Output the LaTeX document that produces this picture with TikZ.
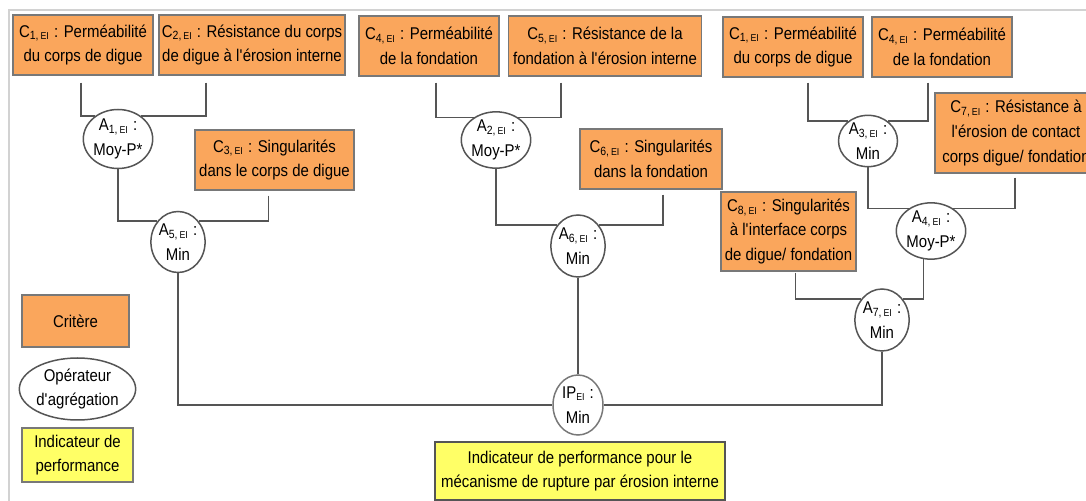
\documentclass[tikz,border=0pt]{standalone}
\usepackage{fontspec}
\setmainfont{Liberation Sans}[FakeStretch=0.88]
\usepackage{xcolor}
\usepackage{tikz}
\usetikzlibrary{positioning,shapes.geometric,calc}

\definecolor{orangecrit}{RGB}{250,166,92}
\definecolor{jaunind}{RGB}{255,255,102}
\definecolor{bordgris}{RGB}{120,120,120}
\definecolor{traitgris}{RGB}{85,85,85}
\definecolor{cadregris}{RGB}{210,210,210}

% indice des critères et opérateurs
\newcommand{\indEI}[1]{\textsubscript{#1,\,{\fontsize{5}{5}\selectfont EI}}}
\newcommand{\apos}{\textquotesingle}

\begin{document}
\begin{tikzpicture}[x=0.5pt, y=-0.5pt, font=\fontsize{8.5}{12.3}\selectfont,
  critere/.style={draw=bordgris, fill=orangecrit, line width=0.75pt, inner sep=0pt,
    align=center, minimum height=30pt},
  operateur/.style={ellipse, draw=traitgris, fill=white, line width=0.75pt, inner sep=0pt,
    align=center},
  indicateur/.style={draw=bordgris, fill=jaunind, line width=0.75pt, inner sep=0pt,
    align=center},
  lien/.style={draw=traitgris, line width=0.9pt}]

  \useasboundingbox (0,0) rectangle (1086,501);

  % === Cadre ===
  \draw[cadregris, line width=1pt] (9,501) -- (9,10) -- (1086,10);

  % === Critères ===
  \node[critere, minimum width=70pt]   (c1)  at (83,45)   {C\indEI{1} : Perméabilité\\du corps de digue};
  \node[critere, minimum width=93pt]   (c2)  at (252,45)  {C\indEI{2} : Résistance du corps\\de digue à l\apos érosion interne};
  \node[critere, minimum width=70pt]   (c4)  at (429,46)  {C\indEI{4} : Perméabilité\\de la fondation};
  \node[critere, minimum width=96.5pt] (c5)  at (605,46)  {C\indEI{5} : Résistance de la\\fondation à l\apos érosion interne};
  \node[critere, minimum width=70pt]   (c1b) at (793,47)  {C\indEI{1} : Perméabilité\\du corps de digue};
  \node[critere, minimum width=70pt]   (c4b) at (942,47)  {C\indEI{4} : Perméabilité\\de la fondation};
  \node[critere, minimum width=79.5pt] (c3)  at (274.5,160) {C\indEI{3} : Singularités\\dans le corps de digue};
  \node[critere, minimum width=71pt]   (c6)  at (651,159) {C\indEI{6} : Singularités\\dans la fondation};
  \node[critere, minimum width=81pt, minimum height=40pt] (c7) at (1016,133)
    {C\indEI{7} : Résistance à\\l\apos érosion de contact\\corps digue/ fondation};
  \node[critere, minimum width=67.5pt, minimum height=39.5pt] (c8) at (788.5,231.5)
    {C\indEI{8} : Singularités\\à l\apos interface corps\\de digue/ fondation};

  % === Opérateurs d'agrégation ===
  \node[operateur, minimum width=31pt,   minimum height=29.5pt] (a1) at (118,139) {A\indEI{1} :\\Moy-P*};
  \node[operateur, minimum width=32.5pt, minimum height=27.5pt] (a2) at (496,140) {A\indEI{2} :\\Moy-P*};
  \node[operateur, minimum width=29.5pt, minimum height=25pt]   (a3) at (868,141) {A\indEI{3} :\\Min};
  \node[operateur, minimum width=31.5pt, minimum height=26pt]   (a4) at (931,231) {A\indEI{4} :\\Moy-P*};
  \node[operateur, minimum width=26pt,   minimum height=30.5pt] (a5) at (178,242) {A\indEI{5} :\\Min};
  \node[operateur, minimum width=26.5pt, minimum height=31pt]   (a6) at (578,246) {A\indEI{6} :\\Min};
  \node[operateur, minimum width=26pt,   minimum height=31pt]   (a7) at (882,320) {A\indEI{7} :\\Min};
  \node[operateur, draw=bordgris, minimum width=25pt, minimum height=30pt] (ip) at (578,405)
    {IP\textsubscript{\fontsize{5}{5}\selectfont EI} :\\Min};

  % === Indicateur final ===
  \node[indicateur, draw=traitgris, line width=1pt, minimum width=145pt, minimum height=29pt] (ipf) at (580,471)
    {Indicateur de performance pour le\\mécanisme de rupture par érosion interne};

  % === Légende ===
  \node[critere, minimum width=53.5pt, minimum height=26pt] (lcrit) at (75.5,321) {Critère};
  \node[operateur, minimum width=50.5pt, minimum height=31pt] (lop) at (77.5,389) {Opérateur\\d\apos agrégation};
  \node[indicateur, minimum width=55.5pt, minimum height=27pt] (lind) at (77.5,455) {Indicateur de\\performance};

  % === Liens ===
  \draw[lien] ($(c1.south)+(-2,7)$)   |- (a1.135);
  \draw[lien] ($(c2.south)+(-46,7)$)  |- (a1.45);
  \draw[lien] ($(c3.south)+(-6,5)$)   |- (a5.45);
  \draw[lien] (a1.south)              |- (a5.135);
  \draw[lien] ($(c4.south)+(7,6)$)    |- (a2.135);
  \draw[lien] ($(c5.south)+(-44,6)$)  |- (a2.45);
  \draw[lien] ($(c6.south)+(12,5)$)   |- (a6.45);
  \draw[lien] (a2.south)              |- (a6.135);
  \draw[lien] ($(c1b.south)+(15,5)$)  |- (a3.135);
  \draw[lien] ($(c4b.south)+(-14,5)$) |- (a3.45);
  \draw[lien] ($(c7.south)+(-1,4)$)   |- (a4.45);
  \draw[lien] (a3.south)              |- (a4.135);
  \draw[lien] ($(c8.south)+(7,1)$)    |- (a7.135);
  \draw[lien] (a4.255)                |- (a7.45);
  \draw[lien] (a5.south)              |- (ip.west);
  \draw[lien] (a6.south)              -- (ip.north);
  \draw[lien] (a7.south)              |- (ip.east);

\end{tikzpicture}
\end{document}
